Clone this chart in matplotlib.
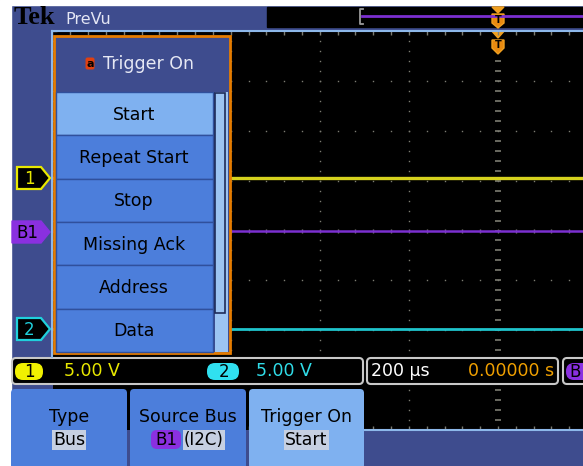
import numpy as np
import matplotlib.pyplot as plt
from matplotlib.patches import Rectangle, Polygon, FancyBboxPatch

# --- data ---
menu_title = 'Trigger On'
menu_items = ['Start', 'Repeat Start', 'Stop', 'Missing Ack', 'Address', 'Data']
selected_item = 0
trace_names = ['1', 'B1', '2']
trace_levels = [1.05, 0.0, -1.98]          # divisions
trace_colors = ['#d6d21e', '#7b2fd0', '#1fc4cc']
ch_scale = ['5.00 V', '5.00 V']
time_scale = '200 µs'
trig_time = '0.00000 s'
buttons = [('Type', 'Bus'), ('Source Bus', '(I2C)'), ('Trigger On', 'Start')]

BG = '#3e4c8e'
ITEM = '#4c7edb'
SEL = '#7fb1f0'
ORANGE = '#e67c00'
LIGHT = '#8db8ea'
NARROW = ['Liberation Sans Narrow', 'DejaVu Sans']

fig = plt.figure(figsize=(5.83, 4.66), dpi=100, facecolor=BG)

# graticule in divisions
sc = fig.add_axes([52.5 / 583, (466 - 430) / 466, (583 - 52.5) / 583, 399 / 466])
sc.set_facecolor('black')
xmax = (583 - 498) / 89.1
sc.set_xlim(-5, xmax)
sc.set_ylim(-4, 4)
sc.set_xticks([])
sc.set_yticks([])
for s in sc.spines.values():
    s.set_visible(False)

dot = '#7c7c72'
minor = np.round(np.arange(-4, 4.01, 0.2), 2)
hminor = np.round(np.arange(-5, xmax, 0.178 * 5 / 4.45), 3)
hminor = np.arange(-5, xmax, 0.2)
for gx in [-4, -3, -2, -1]:
    sc.plot(np.full(len(minor), gx), minor, ls='none', marker='s', ms=1.0, color=dot, mec='none')
for gy in [-3, -2, -1, 1, 2, 3]:
    sc.plot(hminor, np.full(len(hminor), gy), ls='none', marker='s', ms=1.0, color=dot, mec='none')
# centre cross and edge ticks
sc.plot(np.zeros(len(minor)), minor, ls='none', marker='_', ms=4.5, mew=1.2, color=dot)
sc.plot(hminor, np.zeros(len(hminor)), ls='none', marker='|', ms=3.5, mew=1.0, color=dot)
sc.plot(hminor, np.full(len(hminor), 3.97), ls='none', marker='|', ms=4, mew=1.0, color=dot)
sc.plot(hminor, np.full(len(hminor), -3.97), ls='none', marker='|', ms=4, mew=1.0, color=dot)
sc.plot(np.full(len(minor), -4.98), minor, ls='none', marker='_', ms=4, mew=1.0, color=dot)

# traces
for lvl, col, lw in zip(trace_levels, trace_colors, [2.4, 1.8, 2.0]):
    sc.axhline(lvl, color=col, lw=lw)

# trigger position marker inside graticule
sc.add_patch(Polygon([[-0.07, 4], [0.07, 4], [0, 3.86]], closed=True, color='#f0a020',
                     transform=sc.transData, clip_on=False))

# overlay in pixels
ui = fig.add_axes([0, 0, 1, 1], facecolor='none')
ui.set_xlim(0, 583)
ui.set_ylim(466, 0)
ui.axis('off')

ui.add_patch(Rectangle((0, 0), 11, 466, color='white'))
ui.add_patch(Rectangle((0, 0), 583, 5, color='white'))

ui.text(14, 18, 'Tek', family=['Liberation Serif', 'DejaVu Serif'], weight='bold',
        fontsize=19, color='black', va='center')
ui.text(65, 19, 'PreVu', family=NARROW, fontsize=11.5, color='#e4e6f4', va='center')

# record view bar
ui.add_patch(Rectangle((267, 7), 316, 20, color='black'))
ui.plot([362, 583], [16, 16], color=trace_colors[1], lw=2)
ui.plot([363, 360, 360, 363], [9, 9, 24, 24], color='#9a9a9a', lw=1.3)


def trig_marker(cx, ytri, yshield):
    ui.add_patch(Polygon([[cx - 6, ytri], [cx + 6, ytri], [cx, ytri + 6]], color='#f0a020'))
    y0 = yshield
    ui.add_patch(Polygon([[cx - 6, y0], [cx + 6, y0], [cx + 6, y0 + 9], [cx, y0 + 14], [cx - 6, y0 + 9]],
                         fc='#e88a10', ec='#f0a020', lw=1))
    ui.text(cx, y0 + 6, 'T', ha='center', va='center', fontsize=7, weight='bold', color='black')


trig_marker(498, 7, 14)
ui.add_patch(Polygon([[492, 40], [504, 40], [504, 48], [498, 54], [492, 48]],
                     fc='#e88a10', ec='#f0a020', lw=1))
ui.text(498, 45, 'T', ha='center', va='center', fontsize=7, weight='bold', color='black')

# graticule border
ui.plot([52, 583], [31, 31], color=LIGHT, lw=1.5)
ui.plot([52, 52], [31, 357], color=LIGHT, lw=1.5)
ui.plot([365, 583], [430, 430], color=LIGHT, lw=1.5)

# side menu
ui.add_patch(Rectangle((54, 36), 176, 317, fc=BG, ec=ORANGE, lw=2))
ih = (352 - 92) / len(menu_items)
for i, name in enumerate(menu_items):
    y = 92 + i * ih
    ui.add_patch(Rectangle((56, y), 157, ih, fc=SEL if i == selected_item else ITEM,
                           ec='#30509c', lw=1))
    ui.text(134, y + ih / 2 + 1, name, ha='center', va='center', family=NARROW,
            fontsize=12.5, color='black')
ui.add_patch(Rectangle((215, 92), 13, 260, fc='#9cc4f2', ec='none'))
ui.add_patch(Rectangle((215, 93), 10, 220, fc='#9cc4f2', ec='#1e2c5a', lw=1.2))
ui.add_patch(FancyBboxPatch((86, 58), 8, 11, boxstyle='round,pad=0.5,rounding_size=2',
                            fc='#e04010', ec='none'))
ui.text(90, 64, 'a', ha='center', va='center', fontsize=8, color='black', weight='bold')
ui.text(103, 64, menu_title, va='center', family=NARROW, fontsize=12.5, color='#e6e8f4')

# channel markers
marker_y = [178, 232, 329]
for name, y, col in zip(trace_names, marker_y, trace_colors):
    x0 = 12 if name == 'B1' else 17
    h = 11
    pts = [[x0, y - h], [41, y - h], [50, y], [41, y + h], [x0, y + h]]
    if name == 'B1':
        ui.add_patch(Polygon(pts, fc='#8a30e0', ec='#8a30e0', lw=1))
        ui.text(27, y + 1, name, ha='center', va='center', family=NARROW, fontsize=12, color='black')
    else:
        col = '#e8e800' if name == '1' else '#20d0dc'
        ui.add_patch(Polygon(pts, fc='black', ec=col, lw=1.6))
        ui.text(29, y + 1, name, ha='center', va='center', family=NARROW, fontsize=12, color=col)

# status bar
for x0, x1 in [(12, 363), (367, 558), (563, 600)]:
    ui.add_patch(FancyBboxPatch((x0, 358), x1 - x0, 26, boxstyle='round,pad=0,rounding_size=4',
                                fc='black', ec='#c8c8c8', lw=1.5))
ui.add_patch(FancyBboxPatch((15, 363), 28, 17, boxstyle='round,pad=0,rounding_size=8',
                            fc='#f0f000', ec='none'))
ui.text(29, 372, '1', ha='center', va='center', family=NARROW, fontsize=12, color='black')
ui.text(64, 371, ch_scale[0], va='center', family=NARROW, fontsize=12.5, color='#e8e800')
ui.add_patch(FancyBboxPatch((207, 363), 32, 17, boxstyle='round,pad=0,rounding_size=8',
                            fc='#30e0f0', ec='none'))
ui.text(224, 372, '2', ha='center', va='center', family=NARROW, fontsize=12, color='black')
ui.text(256, 371, ch_scale[1], va='center', family=NARROW, fontsize=12.5, color='#30dce8')
ui.text(371, 371, time_scale, va='center', family=NARROW, fontsize=12.5, color='white')
ui.text(554, 371, trig_time, ha='right', va='center', family=NARROW, fontsize=12.5, color='#f0a000')
ui.add_patch(FancyBboxPatch((566, 363), 30, 17, boxstyle='round,pad=0,rounding_size=8',
                            fc='#8a30e0', ec='none'))
ui.text(569, 372, 'B', va='center', family=NARROW, fontsize=12, color='black')

# bottom blue below graticule
ui.add_patch(Rectangle((365, 431), 218, 35, color=BG))

# bottom buttons
bx = [(11, 127), (130, 246), (249, 364)]
for i, ((top, bottom), (x0, x1)) in enumerate(zip(buttons, bx)):
    fc = SEL if i == 2 else ITEM
    ui.add_patch(FancyBboxPatch((x0, 389), x1 - x0, 80, boxstyle='round,pad=0,rounding_size=4',
                                fc=fc, ec='none'))
    cx = (x0 + x1) / 2
    ui.text(cx, 417, top, ha='center', va='center', family=NARROW, fontsize=12.5, color='black')
    if i == 1:
        ui.add_patch(FancyBboxPatch((151, 430), 30, 19, boxstyle='round,pad=0,rounding_size=6',
                                    fc='#8a30e0', ec='none'))
        ui.text(166, 440, 'B1', ha='center', va='center', family=NARROW, fontsize=12, color='black')
        t = ui.text(204, 440, bottom, ha='center', va='center', family=NARROW, fontsize=12,
                    color='black')
        t.set_bbox(dict(fc='#c6d0e2', ec='none', pad=0.6))
    else:
        t = ui.text(cx, 440, bottom, ha='center', va='center', family=NARROW, fontsize=12.5,
                    color='black')
        t.set_bbox(dict(fc='#c6d0e2', ec='none', pad=0.6))

fig.savefig('out.png', dpi=100, facecolor=BG)
